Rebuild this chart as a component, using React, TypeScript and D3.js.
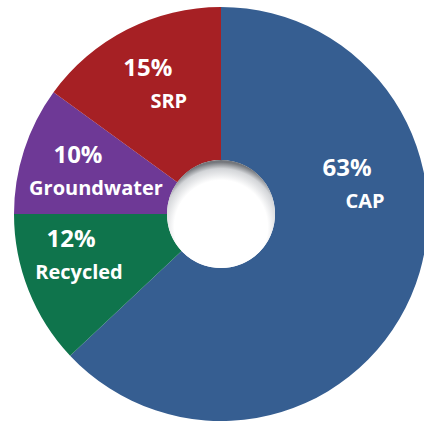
import React from "react";
import * as d3 from "d3";

const sources = ["CAP", "Recycled", "Groundwater", "SRP"];
const shares = [63, 12, 10, 15];
const colors = ["#365E91", "#0F744C", "#6E3996", "#A62024"];

const W = 424;
const H = 423;
const cx = 221;
const cy = 214;
const outerR = 207;
const innerR = 54;

// label placement per slice: angle (deg, clockwise from top), radius, name x-offset
const labelLayout: Record<string, { angle: number; r: number; dx: number }> = {
  CAP: { angle: 75.7, r: 130, dx: 18 },
  Recycled: { angle: 255.4, r: 155, dx: 8 },
  Groundwater: { angle: 287.5, r: 150, dx: 18 },
  SRP: { angle: 331, r: 151, dx: 21 },
};

export default function App() {
  const pie = d3
    .pie<number>()
    .sort(null)
    .value((d) => d);
  const arcs = pie(shares);
  const arc = d3
    .arc<d3.PieArcDatum<number>>()
    .innerRadius(innerR)
    .outerRadius(outerR);

  return (
    <svg
      width={W}
      height={H}
      style={{ position: "absolute", left: 0, top: 0, background: "#fff" }}
      fontFamily="'Open Sans', 'Noto Sans', sans-serif"
    >
      <defs>
        <radialGradient id="hole" cx="0.5" cy="0.62" r="0.6">
          <stop offset="0.72" stopColor="#ffffff" />
          <stop offset="0.9" stopColor="#d3d5d8" />
          <stop offset="1" stopColor="#74777c" />
        </radialGradient>
      </defs>
      <g transform={`translate(${cx},${cy})`}>
        {arcs.map((a, i) => (
          <path key={sources[i]} d={arc(a) || ""} fill={colors[i]} />
        ))}
        <circle r={innerR} fill="url(#hole)" />
        {arcs.map((a, i) => {
          const lay = labelLayout[sources[i]];
          const [x, y] = d3.pointRadial((lay.angle * Math.PI) / 180, lay.r);
          return (
            <g key={"l" + i} transform={`translate(${x},${y})`} fill="#fff" fontWeight={700}>
              <text textAnchor="middle" y={-6} fontSize={24}>
                {shares[i]}%
              </text>
              <text textAnchor="middle" x={lay.dx} y={26} fontSize={20}>
                {sources[i]}
              </text>
            </g>
          );
        })}
      </g>
    </svg>
  );
}
